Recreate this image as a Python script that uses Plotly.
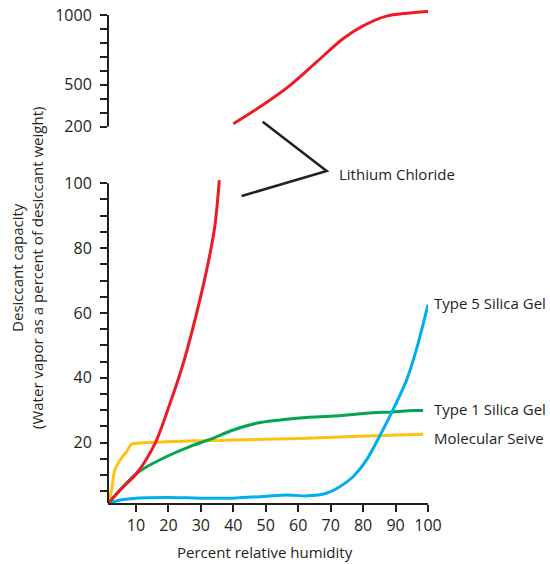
import plotly.graph_objects as go

# Percent relative humidity (x) vs desiccant capacity (% of desiccant weight)
licl_low_x = [1.5, 6.1, 10.2, 15.9, 20.5, 24.6, 28.7, 31.8, 34.3, 35.7]
licl_low_y = [1.3, 6.4, 10.5, 19.8, 32.1, 44.5, 59.9, 73.2, 86.6, 101.0]

licl_high_x = [40.0, 49.2, 57.4, 65.6, 73.8, 80.0, 87.2, 93.4, 100.0]
licl_high_y = [221, 357, 494, 662, 830, 922, 992, 1013, 1026]

type5_x = [1.5, 5.1, 9.2, 19.5, 29.7, 40.0, 50.2, 56.4, 62.6, 68.7, 72.8, 76.9,
           81.0, 85.1, 89.2, 93.4, 96.4, 100.0]
type5_y = [1.3, 2.3, 2.8, 3.1, 2.9, 2.9, 3.5, 3.9, 3.6, 4.4, 6.4, 9.5,
           14.6, 22.0, 30.1, 39.3, 48.6, 62.5]

type1_x = [1.5, 5.1, 10.2, 14.3, 20.5, 26.6, 32.8, 40.0, 47.2, 54.4, 62.6,
           70.8, 81.0, 89.2, 95.4, 98.5]
type1_y = [1.3, 5.4, 10.5, 13.1, 16.2, 18.8, 21.0, 23.9, 26.0, 27.0, 27.8,
           28.2, 29.1, 29.5, 29.9, 29.9]

sieve_x = [1.5, 2.5, 3.5, 5.1, 7.1, 8.7, 10.2, 19.5, 40.0, 60.5, 81.0, 98.5]
sieve_y = [1.3, 5.4, 11.6, 14.6, 17.2, 19.6, 19.8, 20.3, 20.8, 21.3, 22.1, 22.6]

x_ticks = [10, 20, 30, 40, 50, 60, 70, 80, 90, 100]
low_ticks = list(range(5, 101, 5))
low_labels = [str(v) if v % 20 == 0 else "" for v in low_ticks]
high_ticks = list(range(200, 1001, 100))
high_labels = [str(v) if v in (200, 500, 1000) else "" for v in high_ticks]

INK = "#231f20"
RED = "#ed1c24"
BLUE = "#00aeef"
GREEN = "#00a651"
YELLOW = "#ffc20e"
FONT = "Open Sans"

fig = go.Figure()

def curve(x, y, color, axis="y"):
    fig.add_trace(go.Scatter(
        x=x, y=y, mode="lines", yaxis=axis,
        line=dict(color=color, width=3, shape="spline", smoothing=0.8),
        hoverinfo="skip", showlegend=False,
    ))

curve(sieve_x, sieve_y, YELLOW)
curve(type1_x, type1_y, GREEN)
curve(type5_x, type5_y, BLUE)
curve(licl_low_x, licl_low_y, RED)
curve(licl_high_x, licl_high_y, RED, axis="y2")

tick_font = dict(family=FONT, size=16, color=INK)

fig.update_layout(
    width=550, height=564,
    margin=dict(l=108, r=122, t=10, b=61, autoexpand=False),
    paper_bgcolor="white", plot_bgcolor="white",
    font=dict(family=FONT, color=INK),
    xaxis=dict(
        range=[1.4, 100], showgrid=False, zeroline=False, automargin=False,
        showline=True, linecolor=INK, linewidth=2,
        ticks="outside", ticklen=7, tickwidth=1.5, tickcolor=INK,
        tickvals=x_ticks, tickfont=tick_font,
    ),
    yaxis=dict(
        domain=[0, 0.6584], range=[1.4, 101.5], showgrid=False, zeroline=False,
        automargin=False,
        showline=False, ticks="outside", ticklen=7, tickwidth=1.5, tickcolor=INK,
        tickvals=low_ticks, ticktext=low_labels, tickfont=tick_font,
        ticklabelstandoff=5,
    ),
    yaxis2=dict(
        domain=[0.7633, 1], range=[200, 1036], anchor="x", automargin=False,
        showgrid=False, zeroline=False, showline=False,
        ticks="outside", ticklen=7, tickwidth=1.5, tickcolor=INK,
        tickvals=high_ticks, ticktext=high_labels, tickfont=tick_font,
        ticklabelstandoff=5,
    ),
)

# Broken value axis: one spine per segment
fig.add_shape(type="line", xref="paper", yref="y", x0=0, x1=0, y0=1.4, y1=100,
              line=dict(color=INK, width=2))
fig.add_shape(type="line", xref="paper", yref="y2", x0=0, x1=0, y0=200, y1=1000,
              line=dict(color=INK, width=2))

# Leader lines joining the two Lithium Chloride segments to their label
fig.add_shape(type="path", xref="paper", yref="paper",
              path="M 0.4834 0.7734 L 0.6834 0.6734 L 0.4178 0.6227",
              line=dict(color=INK, width=2.5))

label_font = dict(family=FONT, size=15, color=INK)
for text, px_x, px_y in [
    ("Lithium Chloride", 337, 174),
    ("Type 5 Silica Gel", 432, 303),
    ("Type 1 Silica Gel", 432, 409),
    ("Molecular Seive", 432, 438),
]:
    fig.add_annotation(
        text=text, xref="paper", yref="paper",
        x=(px_x - 108) / 320, y=(503 - px_y) / 493,
        xanchor="left", yanchor="middle", showarrow=False, font=label_font,
    )

fig.add_annotation(
    text="Desiccant capacity<br>(Water vapor as a percent of desiccant weight)",
    xref="paper", yref="paper", x=(27 - 108) / 320, y=(503 - 268) / 493,
    xanchor="center", yanchor="middle", textangle=-90, showarrow=False,
    font=label_font,
)
fig.add_annotation(
    text="Percent relative humidity", xref="paper", yref="paper",
    x=(265 - 108) / 320, y=(503 - 552) / 493,
    xanchor="center", yanchor="middle", showarrow=False, font=label_font,
)

fig.write_html("out.html")
